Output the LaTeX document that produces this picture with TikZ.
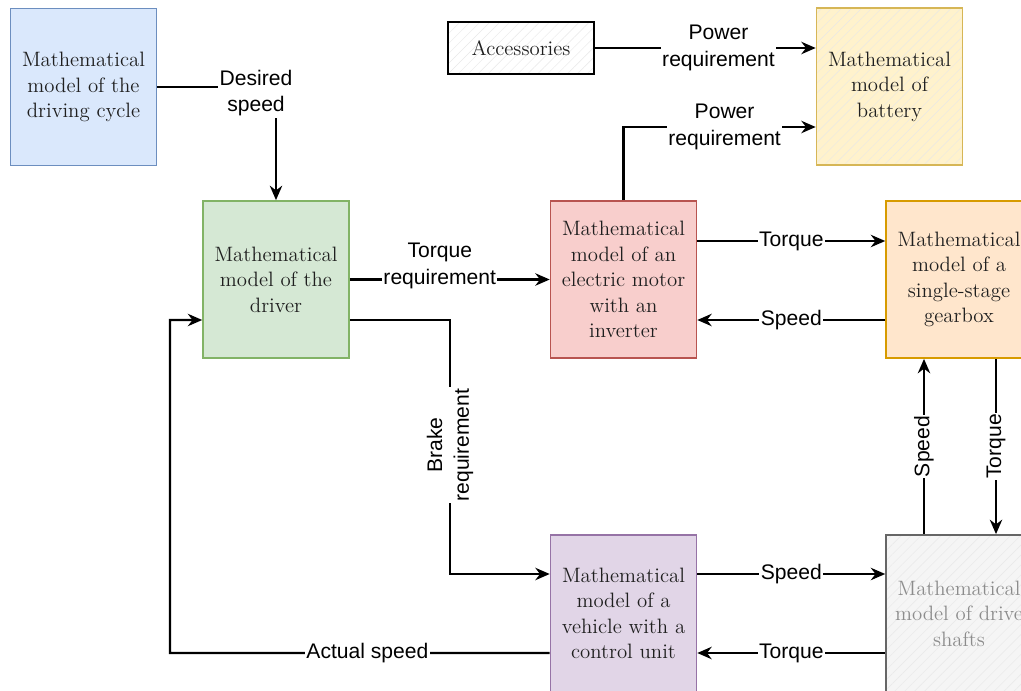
\documentclass[tikz,border=0pt]{standalone}
\usepackage{fontspec}
\newfontfamily\lblfont{Liberation Sans}
\usepackage{xcolor}
\usetikzlibrary{arrows.meta,calc,patterns.meta}

\definecolor{cycfill}{HTML}{DAE8FC}\definecolor{cycdraw}{HTML}{6C8EBF}
\definecolor{drvfill}{HTML}{D5E8D4}\definecolor{drvdraw}{HTML}{82B366}
\definecolor{motfill}{HTML}{F8CECC}\definecolor{motdraw}{HTML}{B85450}
\definecolor{batfill}{HTML}{FFF2CC}\definecolor{batdraw}{HTML}{D6B656}
\definecolor{gbxfill}{HTML}{FFE6CC}\definecolor{gbxdraw}{HTML}{D79B00}
\definecolor{vehfill}{HTML}{E1D5E7}\definecolor{vehdraw}{HTML}{9673A6}
\definecolor{shtfill}{HTML}{F5F5F5}\definecolor{shtdraw}{HTML}{666666}

\begin{document}
\begin{tikzpicture}[
  x=0.025cm, y=-0.025cm,
  >={Stealth[length=3.6mm,width=3.1mm]},
  every node/.style={font=\fontsize{14.8}{18.1}\selectfont, text=black!88},
  box/.style={draw, line width=1.1pt, minimum width=3.65cm, minimum height=3.93cm, align=center, inner sep=2pt},
  hatch/.style={path picture={\fill[pattern={Lines[angle=45,distance=5pt,line width=0.3pt]}, pattern color=black!9]
    (path picture bounding box.south west) rectangle (path picture bounding box.north east);}},
  lbl/.style={font=\lblfont\fontsize{15}{19}\selectfont, text=black, fill=white, align=center, inner sep=1pt},
  arr/.style={->, line width=1.6pt},
]
  \useasboundingbox (0,0) rectangle (1021,691);

  % blocks
  \node[box, fill=cycfill, draw=cycdraw] (cycle) at (83.5,87) {Mathematical\\model of the\\driving cycle};
  \node[box, fill=drvfill, draw=drvdraw] (driver) at (276,279.5) {Mathematical\\model of the\\driver};
  \node[box, hatch, fill=white, draw=black, minimum height=1.3cm] (acc) at (521,48) {Accessories};
  \node[box, hatch, fill=batfill, draw=batdraw] (battery) at (889.5,86.5) {Mathematical\\model of\\battery};
  \node[box, fill=motfill, draw=motdraw] (motor) at (623.5,279.5) {Mathematical\\model of an\\electric motor\\with an\\inverter};
  \node[box, fill=gbxfill, draw=gbxdraw] (gearbox) at (959,279.5) {Mathematical\\model of a\\single-stage\\gearbox};
  \node[box, fill=vehfill, draw=vehdraw] (vehicle) at (623.5,613.5) {Mathematical\\model of a\\vehicle with a\\control unit};
  \node[box, hatch, fill=shtfill, draw=shtdraw, text=black!45] (shafts) at (959,613.5) {Mathematical\\model of drive\\shafts};

  \coordinate (brk) at (450,445);
  \coordinate (fb) at (170,653);

  % signals
  \draw[arr] (cycle.east) -| node[lbl, pos=0.5, xshift=-0.5cm, yshift=-0.15cm]{Desired\\speed} (driver.north);
  \draw[arr] (driver.east) -- node[lbl, pos=0.45, yshift=0.34cm]{Torque\\requirement} (motor.west);
  \draw[arr] ($(driver.east)+(0,40.5)$) -| (brk) node[lbl, rotate=90]{Brake\\requirement} |- ($(vehicle.west)+(0,-39.5)$);
  \draw[arr] (acc.east) -- node[lbl, pos=0.56]{Power\\requirement} (acc.east -| battery.west);
  \draw[arr] (motor.north) |- node[lbl, pos=0.763]{Power\\requirement} ($(battery.west)+(0,40.5)$);
  \draw[arr] ($(motor.east)+(0,-38.5)$) -- node[lbl]{Torque} ($(gearbox.west)+(0,-38.5)$);
  \draw[arr] ($(gearbox.west)+(0,40.5)$) -- node[lbl]{Speed} ($(motor.east)+(0,40.5)$);
  \draw[arr] ($(shafts.north)+(-35,0)$) -- node[lbl, rotate=90]{Speed} ($(gearbox.south)+(-35,0)$);
  \draw[arr] ($(gearbox.south)+(37,0)$) -- node[lbl, rotate=90]{Torque} ($(shafts.north)+(37,0)$);
  \draw[arr] ($(vehicle.east)+(0,-39.5)$) -- node[lbl]{Speed} ($(shafts.west)+(0,-39.5)$);
  \draw[arr] ($(shafts.west)+(0,39.5)$) -- node[lbl]{Torque} ($(vehicle.east)+(0,39.5)$);
  \draw[arr] ($(vehicle.west)+(0,39.5)$) -- node[lbl, pos=0.48]{Actual speed} (fb) |- ($(driver.west)+(0,40.5)$);
\end{tikzpicture}
\end{document}
